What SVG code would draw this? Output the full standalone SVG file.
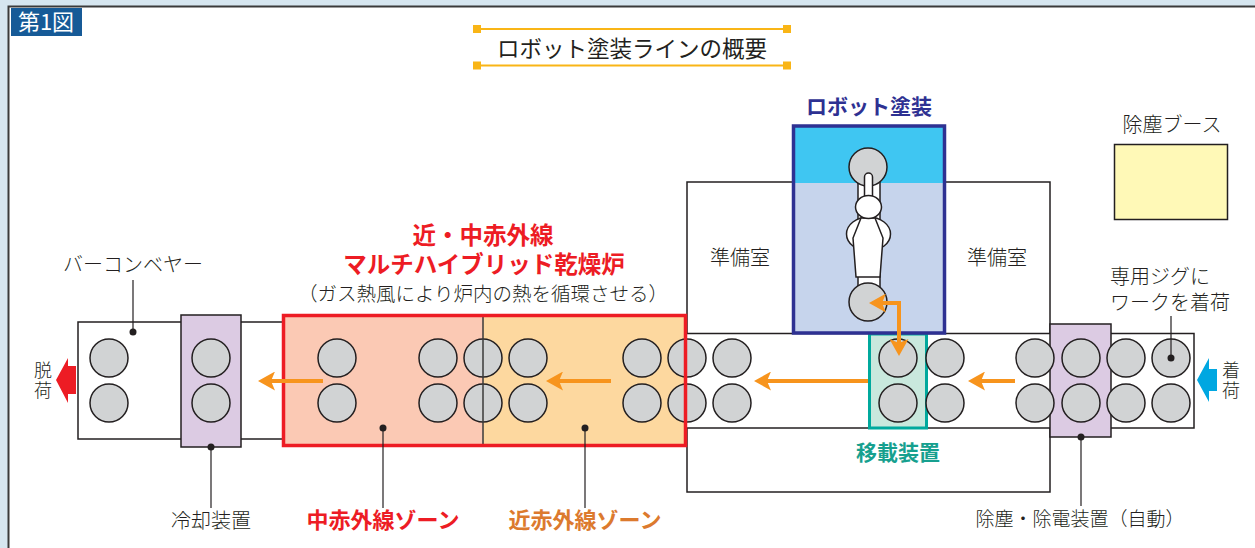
<svg xmlns="http://www.w3.org/2000/svg" width="1255" height="548" viewBox="0 0 1255 548">
<style>
  .t{font-family:"Noto Sans CJK JP","Noto Sans",sans-serif;font-size:20px;font-weight:300;fill:#231f20}
  .b{font-family:"Noto Sans CJK JP","Noto Sans",sans-serif;font-weight:700}
  .c{text-anchor:middle}
  .v{font-size:18px;writing-mode:vertical-rl;letter-spacing:2px}
  .wk{fill:#d1d3d4;stroke:#231f20;stroke-width:1.5}
  .box{fill:#fff;stroke:#231f20;stroke-width:1.5}
  .pur{fill:#dccbe3;stroke:#231f20;stroke-width:1.5}
  .ld{fill:none;stroke:#231f20;stroke-width:1.2}
  .dot{fill:#231f20}
  .flow{fill:none;stroke:#f7941d;stroke-width:4}
  .robo{fill:#fff;stroke:#231f20;stroke-width:1.5}
  .gold{stroke:#f9b516;stroke-width:2}
</style>
<defs>
  <marker id="ah" viewBox="0 0 17 19" refX="6" refY="9.5" markerWidth="17" markerHeight="19" orient="auto-start-reverse" markerUnits="userSpaceOnUse">
    <path d="M0 0 L17 9.5 L0 19 L4 9.5 Z" fill="#f7941d"/>
  </marker>
</defs>

<!-- page frame -->
<rect x="0" y="0" width="1255" height="548" fill="#d6e6f0"/>
<rect x="8" y="6" width="1247" height="542" fill="#fff"/>
<path d="M8.5 548 V6.5 H1255" fill="none" stroke="#3a3a3a" stroke-width="2"/>

<g id="figure-tag">
  <rect x="11" y="8" width="71" height="28" fill="#165a97"/>
  <text x="46" y="29.5" class="c" font-family="'Noto Sans CJK JP','Noto Sans',sans-serif" font-size="22" fill="#fff">第1図</text>
</g>

<g id="title">
  <line class="gold" x1="477" y1="29" x2="787" y2="29"/>
  <line class="gold" x1="477" y1="65.5" x2="787" y2="65.5"/>
  <g fill="#f9b516">
    <rect x="473" y="25" width="8" height="8"/>
    <rect x="783" y="25" width="8" height="8"/>
    <rect x="473" y="61.5" width="8" height="8"/>
    <rect x="783" y="61.5" width="8" height="8"/>
  </g>
  <text x="632" y="57" class="t c" style="font-size:22.5px;font-weight:400">ロボット塗装ラインの概要</text>
</g>

<!-- preparation rooms around the painting booth -->
<g id="prep-rooms">
  <rect class="box" x="687" y="182" width="363" height="310"/>
  <text x="740" y="265" class="t c">準備室</text>
  <text x="997" y="265" class="t c">準備室</text>
</g>

<!-- bar conveyor sections -->
<g id="conveyor">
  <rect class="box" x="78" y="322" width="212" height="117"/>
  <rect class="box" x="680" y="333.5" width="375" height="94.5"/>
  <rect class="box" x="1100" y="333.5" width="94" height="94.5"/>
</g>

<g id="transfer">
  <rect x="869.5" y="334" width="57" height="94" fill="#c9e8dd" stroke="#00a99d" stroke-width="3"/>
  <text x="898" y="460" class="b c" font-size="21" fill="#16a08f">移載装置</text>
</g>

<g id="robot-booth">
  <rect x="793.5" y="126" width="151" height="207" fill="#c6d4ec"/>
  <rect x="793.5" y="126" width="151" height="57" fill="#3fc6f2"/>
  <rect x="793.5" y="126" width="151" height="207" fill="none" stroke="#2e3192" stroke-width="3.5"/>
  <text x="869" y="114" class="b c" font-size="21" fill="#2e3192">ロボット塗装</text>
</g>

<g id="cooling">
  <rect class="pur" x="181" y="315" width="60" height="132"/>
</g>

<g id="destatic">
  <rect class="pur" x="1050" y="324" width="61" height="113"/>
</g>

<g id="dust-booth">
  <rect x="1114.5" y="144.5" width="113" height="75" fill="#fff9b7" stroke="#231f20" stroke-width="1.5"/>
  <text x="1172" y="132" class="t c">除塵ブース</text>
</g>

<g id="dryer">
  <rect x="282" y="314" width="201" height="133" fill="#fbc9b4"/>
  <rect x="483" y="314" width="204" height="133" fill="#fdd89f"/>
  <text class="b c" font-size="23.5" fill="#ed1c24"><tspan x="483" y="244">近・中赤外線</tspan><tspan x="484" y="273">マルチハイブリッド乾燥炉</tspan></text>
  <text x="483" y="301" class="t c" style="font-size:19.5px">（ガス熱風により炉内の熱を循環させる）</text>
</g>

<!-- workpieces on jigs -->
<g id="workpieces">
  <circle class="wk" cx="109" cy="358" r="19"/><circle class="wk" cx="109" cy="403" r="19"/>
  <circle class="wk" cx="211" cy="358" r="19"/><circle class="wk" cx="211" cy="403" r="19"/>
  <circle class="wk" cx="337" cy="358" r="19"/><circle class="wk" cx="337" cy="403" r="19"/>
  <circle class="wk" cx="438" cy="358" r="19"/><circle class="wk" cx="438" cy="403" r="19"/>
  <circle class="wk" cx="483" cy="358" r="19"/><circle class="wk" cx="483" cy="403" r="19"/>
  <circle class="wk" cx="528" cy="358" r="19"/><circle class="wk" cx="528" cy="403" r="19"/>
  <circle class="wk" cx="642" cy="358" r="19"/><circle class="wk" cx="642" cy="403" r="19"/>
  <circle class="wk" cx="687" cy="358" r="19"/><circle class="wk" cx="687" cy="403" r="19"/>
  <circle class="wk" cx="732" cy="358" r="19"/><circle class="wk" cx="732" cy="403" r="19"/>
  <circle class="wk" cx="898" cy="358" r="19"/><circle class="wk" cx="898" cy="403" r="19"/>
  <circle class="wk" cx="945" cy="358" r="19"/><circle class="wk" cx="945" cy="403" r="19"/>
  <circle class="wk" cx="1035" cy="358" r="19"/><circle class="wk" cx="1035" cy="403" r="19"/>
  <circle class="wk" cx="1081" cy="358" r="19"/><circle class="wk" cx="1081" cy="403" r="19"/>
  <circle class="wk" cx="1126" cy="358" r="19"/><circle class="wk" cx="1126" cy="403" r="19"/>
  <circle class="wk" cx="1171" cy="358" r="19"/><circle class="wk" cx="1171" cy="403" r="19"/>
</g>

<g id="dryer-frame">
  <line x1="483" y1="314" x2="483" y2="447" stroke="#3a3a3a" stroke-width="1.5"/>
  <rect x="283.5" y="315.5" width="402" height="130" fill="none" stroke="#ed1c24" stroke-width="3.5"/>
</g>

<!-- painting robot seen from above -->
<g id="robot">
  <rect class="robo" x="858" y="172" width="22" height="122"/>
  <circle class="wk" cx="868" cy="167" r="19"/>
  <circle class="wk" cx="868" cy="302" r="19"/>
  <rect class="robo" x="864.5" y="173" width="8" height="30" rx="4"/>
  <ellipse class="robo" cx="868.5" cy="234" rx="22" ry="17"/>
  <path class="robo" d="M861 218 L853 238 L856 277 L880 277 L883 238 L875 218 Z"/>
  <ellipse class="robo" cx="868.5" cy="207" rx="13" ry="11.5"/>
</g>

<g id="unload">
  <polygon points="56,380 68,358 68,366 76,366 76,394 68,394 68,403" fill="#ed1c24"/>
  <text x="43" y="361" class="t v">脱荷</text>
</g>

<g id="load">
  <polygon points="1197,380 1209,358 1209,369 1217,369 1217,391 1209,391 1209,402" fill="#00a7e1"/>
  <text x="1231" y="361" class="t v">着荷</text>
  <text x="1110" y="284" class="t">専用ジグに</text>
  <text x="1110" y="310" class="t">ワークを着荷</text>
</g>

<g id="labels">
  <text x="133" y="272" class="t c">バーコンベヤー</text>
  <text x="211" y="528" class="t c">冷却装置</text>
  <text x="383" y="528" class="b c" font-size="22" fill="#ed1c24">中赤外線ゾーン</text>
  <text x="585" y="528" class="b c" font-size="22" fill="#dc7a2e">近赤外線ゾーン</text>
  <text x="1080" y="526" class="t c" style="font-size:19px">除塵・除電装置（自動）</text>
</g>

<g id="connectors">
  <line class="ld" x1="133" y1="280" x2="133" y2="332"/><circle class="dot" cx="133" cy="332" r="3.5"/>
  <line class="ld" x1="211" y1="447" x2="211" y2="508"/><circle class="dot" cx="211" cy="447" r="3.5"/>
  <line class="ld" x1="383" y1="428" x2="383" y2="508"/><circle class="dot" cx="383" cy="428" r="3.5"/>
  <line class="ld" x1="585" y1="428" x2="585" y2="508"/><circle class="dot" cx="585" cy="428" r="3.5"/>
  <line class="ld" x1="1081" y1="437" x2="1081" y2="506"/><circle class="dot" cx="1081" cy="437" r="3.5"/>
  <line class="ld" x1="1171" y1="316" x2="1171" y2="358"/><circle class="dot" cx="1171" cy="358" r="3.5"/>

  <path class="flow" d="M323 381 H269" marker-end="url(#ah)"/>
  <path class="flow" d="M611 381 H557" marker-end="url(#ah)"/>
  <path class="flow" d="M868 381 H765" marker-end="url(#ah)"/>
  <path class="flow" d="M1015 381 H979" marker-end="url(#ah)"/>
  <path class="flow" d="M899 345 V303 H880" marker-start="url(#ah)" marker-end="url(#ah)"/>
</g>
</svg>
